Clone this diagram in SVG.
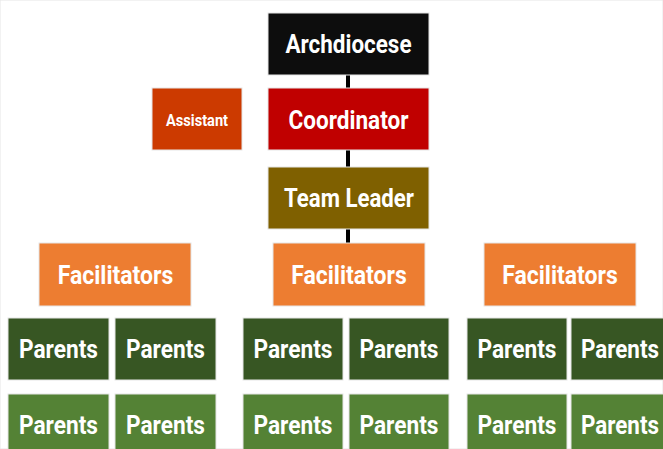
<svg xmlns="http://www.w3.org/2000/svg" width="663" height="449" viewBox="0 0 663 449">
<style>
rect{stroke:#e6e6e6;stroke-width:1}
text{font-family:Roboto,"Liberation Sans",sans-serif;font-weight:bold;fill:#fff;text-anchor:middle}
.big{font-size:25px}
.small{font-size:16.5px}
.dk{fill:#375623}
.lt{fill:#548235}
.fac{fill:#ed7d31}
</style>
<rect x="0" y="0" width="663" height="449" fill="#fff" stroke="none"/>
<g id="connectors">
<line x1="348" y1="75" x2="348" y2="243" stroke="#000" stroke-width="4"/>
</g>
<g id="archdiocese"><rect x="268" y="13" width="161" height="62" fill="#0d0d0d"/><text class="big" x="348.5" y="52.7" textLength="126" lengthAdjust="spacingAndGlyphs">Archdiocese</text></g>
<g id="coordinator"><rect x="268" y="88" width="161" height="62" fill="#c00000"/><text class="big" x="348.5" y="128.7" textLength="120" lengthAdjust="spacingAndGlyphs">Coordinator</text></g>
<g id="assistant"><rect x="152" y="88" width="90" height="62" fill="#cc3a00"/><text class="small" x="197" y="126" textLength="62" lengthAdjust="spacingAndGlyphs">Assistant</text></g>
<g id="teamleader"><rect x="268" y="167" width="161" height="62" fill="#7f6000"/><text class="big" x="349" y="207.3" textLength="130" lengthAdjust="spacingAndGlyphs">Team Leader</text></g>
<g id="fac1"><rect class="fac" x="39" y="243" width="152" height="63"/><text class="big" x="115.5" y="284" textLength="115.6" lengthAdjust="spacingAndGlyphs">Facilitators</text></g>
<g id="fac2"><rect class="fac" x="273" y="243" width="152" height="63"/><text class="big" x="349" y="284" textLength="115.6" lengthAdjust="spacingAndGlyphs">Facilitators</text></g>
<g id="fac3"><rect class="fac" x="484" y="243" width="152" height="63"/><text class="big" x="560" y="284" textLength="115.6" lengthAdjust="spacingAndGlyphs">Facilitators</text></g>
<g id="p1a"><rect class="dk" x="8" y="318" width="101" height="62"/><text class="big" x="58.5" y="358.3" textLength="79" lengthAdjust="spacingAndGlyphs">Parents</text></g>
<g id="p1b"><rect class="dk" x="115" y="318" width="101" height="62"/><text class="big" x="165.5" y="358.3" textLength="79" lengthAdjust="spacingAndGlyphs">Parents</text></g>
<g id="p1c"><rect class="lt" x="8" y="394" width="101" height="62"/><text class="big" x="58.5" y="434.3" textLength="79" lengthAdjust="spacingAndGlyphs">Parents</text></g>
<g id="p1d"><rect class="lt" x="115" y="394" width="101" height="62"/><text class="big" x="165.5" y="434.3" textLength="79" lengthAdjust="spacingAndGlyphs">Parents</text></g>
<g id="p2a"><rect class="dk" x="243" y="318" width="100" height="62"/><text class="big" x="293" y="358.3" textLength="79" lengthAdjust="spacingAndGlyphs">Parents</text></g>
<g id="p2b"><rect class="dk" x="349" y="318" width="100" height="62"/><text class="big" x="399" y="358.3" textLength="79" lengthAdjust="spacingAndGlyphs">Parents</text></g>
<g id="p2c"><rect class="lt" x="243" y="394" width="100" height="62"/><text class="big" x="293" y="434.3" textLength="79" lengthAdjust="spacingAndGlyphs">Parents</text></g>
<g id="p2d"><rect class="lt" x="349" y="394" width="100" height="62"/><text class="big" x="399" y="434.3" textLength="79" lengthAdjust="spacingAndGlyphs">Parents</text></g>
<g id="p3a"><rect class="dk" x="467" y="318" width="100" height="62"/><text class="big" x="517" y="358.3" textLength="79" lengthAdjust="spacingAndGlyphs">Parents</text></g>
<g id="p3b"><rect class="dk" x="571" y="318" width="100" height="62"/><text class="big" x="620" y="358.3" textLength="78" lengthAdjust="spacingAndGlyphs">Parents</text></g>
<g id="p3c"><rect class="lt" x="467" y="394" width="100" height="62"/><text class="big" x="517" y="434.3" textLength="79" lengthAdjust="spacingAndGlyphs">Parents</text></g>
<g id="p3d"><rect class="lt" x="571" y="394" width="100" height="62"/><text class="big" x="620" y="434.3" textLength="78" lengthAdjust="spacingAndGlyphs">Parents</text></g>
</svg>
